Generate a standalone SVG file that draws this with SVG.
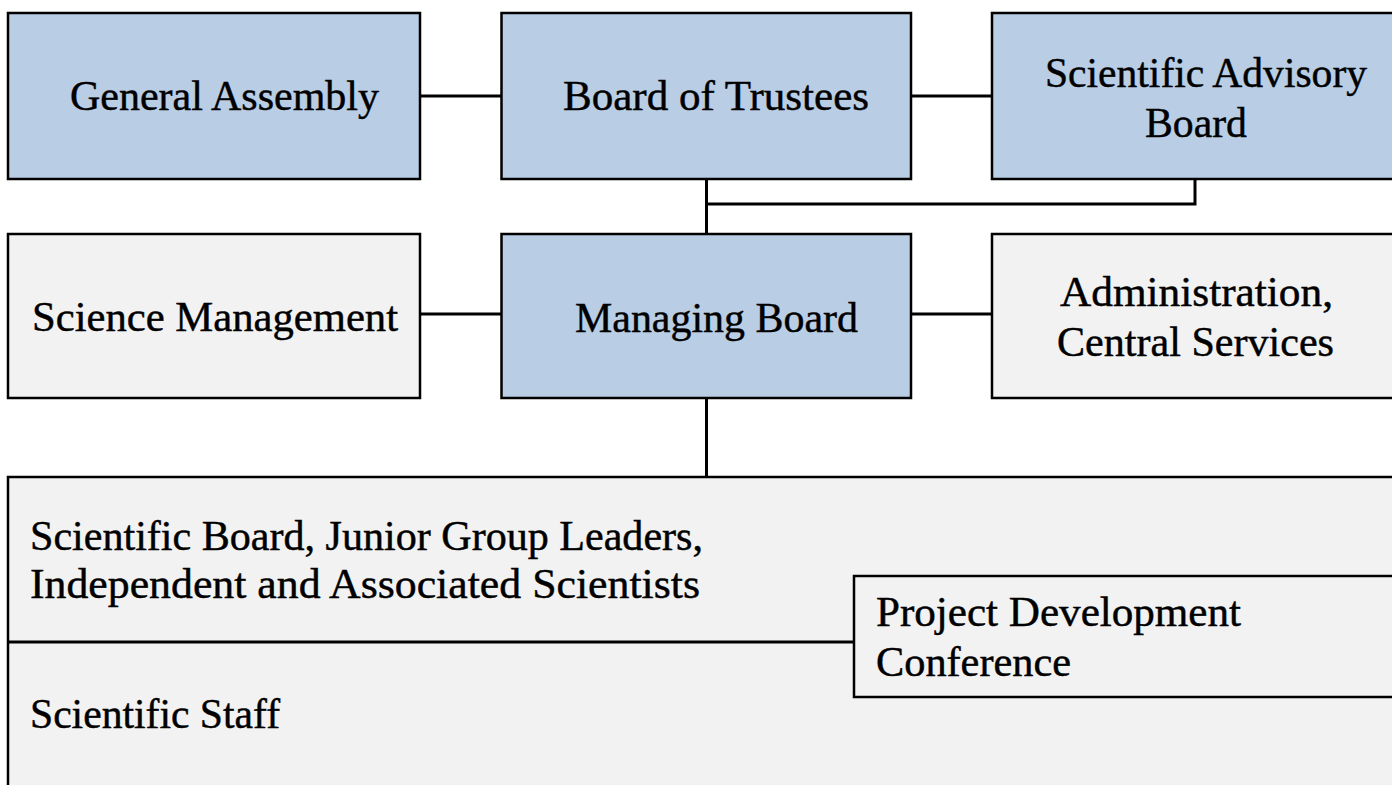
<svg xmlns="http://www.w3.org/2000/svg" width="1392" height="785" viewBox="0 0 1392 785">
  <style>
    .box { stroke: #000; stroke-width: 2.5; }
    .blue { fill: #B9CDE5; }
    .grey { fill: #F2F2F2; }
    .lbl { font-family: "Liberation Serif", "Times New Roman", serif; font-size: 42px; fill: #000; stroke: #000; stroke-width: 0.45; }
    .link { stroke: #000; stroke-width: 3; fill: none; }
  </style>
  <rect width="1392" height="785" fill="#fff"/>

  <!-- staff body at the bottom, drawn first so the other shapes sit on it -->
  <g id="staff">
    <rect class="box grey" x="8" y="477" width="1400" height="400"/>
    <text class="lbl" x="30" y="550" textLength="673" lengthAdjust="spacingAndGlyphs">Scientific Board, Junior Group Leaders,</text>
    <text class="lbl" x="30" y="598" textLength="670" lengthAdjust="spacingAndGlyphs">Independent and Associated Scientists</text>
    <text class="lbl" x="30" y="728" textLength="250" lengthAdjust="spacingAndGlyphs">Scientific Staff</text>
  </g>

  <g id="connectors">
    <line class="link" x1="420" y1="96" x2="501.5" y2="96"/>
    <line class="link" x1="911" y1="96" x2="992" y2="96"/>
    <line class="link" x1="706.5" y1="179" x2="706.5" y2="234"/>
    <polyline class="link" points="1195,179 1195,204 706.5,204"/>
    <line class="link" x1="420" y1="314" x2="501.5" y2="314"/>
    <line class="link" x1="911" y1="314" x2="992" y2="314"/>
    <line class="link" x1="706.5" y1="398" x2="706.5" y2="477"/>
    <line class="link" x1="8" y1="642" x2="854" y2="642"/>
  </g>

  <g id="general-assembly">
    <rect class="box blue" x="8" y="13" width="412" height="166"/>
    <text class="lbl" x="70" y="110" textLength="309" lengthAdjust="spacingAndGlyphs">General Assembly</text>
  </g>

  <g id="board-of-trustees">
    <rect class="box blue" x="501.5" y="13" width="409.5" height="166"/>
    <text class="lbl" x="563" y="110" textLength="306" lengthAdjust="spacingAndGlyphs">Board of Trustees</text>
  </g>

  <g id="scientific-advisory-board">
    <rect class="box blue" x="992" y="13" width="420" height="166"/>
    <text class="lbl" x="1045" y="87" textLength="322" lengthAdjust="spacingAndGlyphs">Scientific Advisory</text>
    <text class="lbl" x="1145" y="137" textLength="102" lengthAdjust="spacingAndGlyphs">Board</text>
  </g>

  <g id="science-management">
    <rect class="box grey" x="8" y="234" width="412" height="164"/>
    <text class="lbl" x="32" y="331" textLength="366" lengthAdjust="spacingAndGlyphs">Science Management</text>
  </g>

  <g id="managing-board">
    <rect class="box blue" x="501.5" y="234" width="409.5" height="164"/>
    <text class="lbl" x="575" y="332" textLength="283" lengthAdjust="spacingAndGlyphs">Managing Board</text>
  </g>

  <g id="administration">
    <rect class="box grey" x="992" y="234" width="420" height="164"/>
    <text class="lbl" x="1060" y="306" textLength="273" lengthAdjust="spacingAndGlyphs">Administration,</text>
    <text class="lbl" x="1057" y="356" textLength="277" lengthAdjust="spacingAndGlyphs">Central Services</text>
  </g>

  <g id="project-development-conference">
    <rect class="box grey" x="854" y="576" width="560" height="121"/>
    <text class="lbl" x="876" y="626" textLength="365" lengthAdjust="spacingAndGlyphs">Project Development</text>
    <text class="lbl" x="876" y="676" textLength="195" lengthAdjust="spacingAndGlyphs">Conference</text>
  </g>
</svg>
